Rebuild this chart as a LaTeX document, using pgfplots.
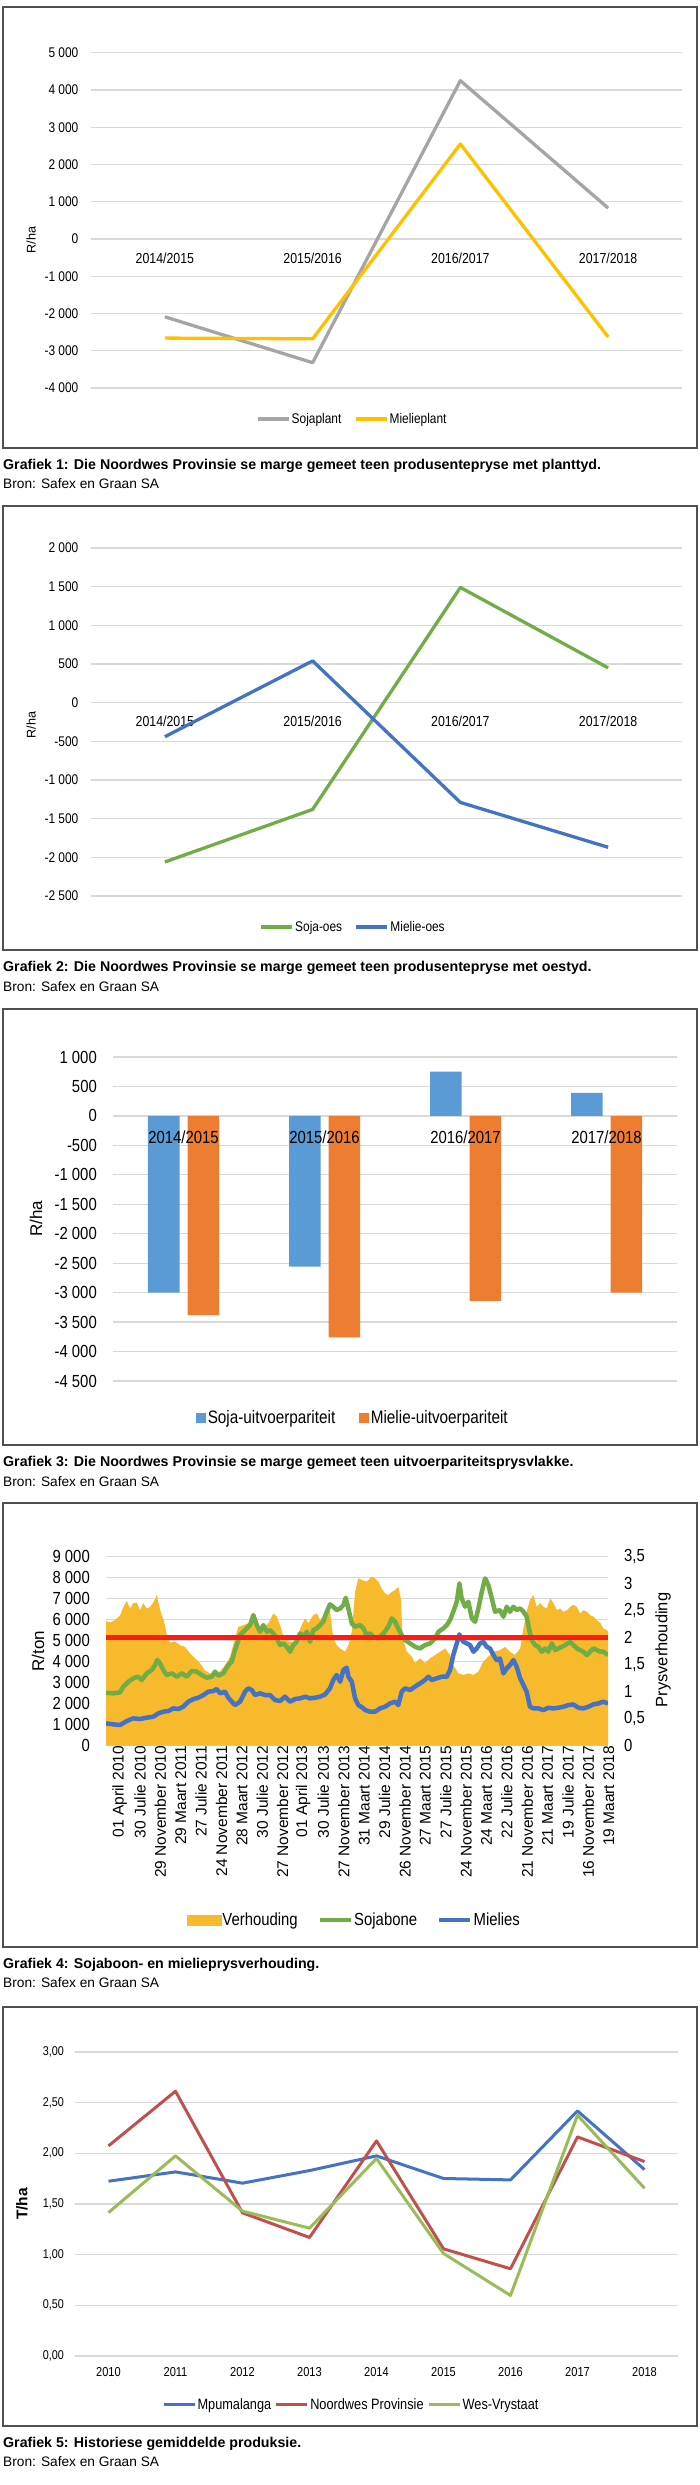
\documentclass[border=0pt]{standalone}
\usepackage{fontspec}
\setmainfont{Liberation Sans}
\newfontfamily\cond[FakeStretch=0.85]{Liberation Sans}
\usepackage{pgfplots}
\pgfplotsset{compat=1.18}

\definecolor{gridc}{HTML}{D9D9D9}
\definecolor{framec}{HTML}{505050}
\definecolor{sgray}{HTML}{A5A5A5}
\definecolor{gold}{HTML}{FFC000}
\definecolor{xgreen}{HTML}{70AD47}
\definecolor{xblue}{HTML}{4472C4}
\definecolor{lblue}{HTML}{5B9BD5}
\definecolor{xorange}{HTML}{ED7D31}
\definecolor{vh}{RGB}{246,186,44}
\definecolor{xred}{HTML}{FF1A1A}
\definecolor{nred}{HTML}{C0504D}
\definecolor{lgreen}{HTML}{9BBB59}

\newcommand{\fs}[1]{\fontsize{#1}{#1}\selectfont}

\pgfplotsset{
  base/.style={scale only axis, anchor=north west,
    axis line style={draw=none}, major tick length=0pt, tick style={draw=none},
    grid style={gridc, line width=1.3pt}},
  linelegend/.style={legend image code/.code={\draw[##1] (0pt,0pt) -- (31pt,0pt);}},
}

\begin{document}
\begin{tikzpicture}
\path[use as bounding box] (0,0) rectangle (700pt,-2485pt);

% frames and captions
\foreach \t/\b in {7/448, 506/950, 1009/1445, 1503/1947, 2007/2426}
  \draw[framec, line width=2pt] (3pt,-\t pt) rectangle (697pt,-\b pt);
\node[anchor=west, inner sep=0pt, font=\bfseries\fs{14.2}] at (3pt,-466pt) {Grafiek 1: Die Noordwes Provinsie se marge gemeet teen produsentepryse met planttyd.};
\node[anchor=west, inner sep=0pt, font=\bfseries\fs{14.2}] at (3pt,-968pt) {Grafiek 2: Die Noordwes Provinsie se marge gemeet teen produsentepryse met oestyd.};
\node[anchor=west, inner sep=0pt, font=\bfseries\fs{14.2}] at (3pt,-1463pt) {Grafiek 3: Die Noordwes Provinsie se marge gemeet teen uitvoerpariteitsprysvlakke.};
\node[anchor=west, inner sep=0pt, font=\bfseries\fs{14.2}] at (3pt,-1965pt) {Grafiek 4: Sojaboon- en mielieprysverhouding.};
\node[anchor=west, inner sep=0pt, font=\bfseries\fs{14.2}] at (3pt,-2444pt) {Grafiek 5: Historiese gemiddelde produksie.};
\foreach \y in {484, 987, 1482, 1983, 2462}
  \node[anchor=west, inner sep=0pt, font=\fs{13.7}] at (3pt,-\y pt) {Bron: Safex en Graan SA};

% axis titles
\node[rotate=90, font=\fs{12.6}] at (31pt,-240pt) {R/ha};
\node[rotate=90, font=\fs{12.6}] at (31pt,-725pt) {R/ha};
\node[rotate=90, font=\fs{17}] at (36pt,-1219pt) {R/ha};
\node[rotate=90, font=\fs{17}] at (38pt,-1651pt) {R/ton};
\node[rotate=90, font=\fs{16.5}] at (663pt,-1650pt) {Prysverhouding};
\node[rotate=90, font=\bfseries\fs{15.5}] at (22pt,-2204pt) {T/ha};

% ---------- Grafiek 1
\begin{axis}[base, at={(91pt,-52.7pt)}, width=591pt, height=335.3pt,
  xmin=-0.5, xmax=3.5, ymin=-4000, ymax=5000, ymajorgrids,
  xtick={0,1,2,3}, xticklabels={2014/2015,2015/2016,2016/2017,2017/2018},
  ytick={-4000,-3000,...,5000},
  yticklabels={-4 000,-3 000,-2 000,-1 000,0,1 000,2 000,3 000,4 000,5 000},
  xticklabel style={font=\cond\fs{14.5}, inner sep=0pt, anchor=center, yshift=130pt},
  yticklabel style={font=\cond\fs{14}, inner sep=0pt, anchor=east, xshift=-12.5pt},
  legend style={at={(0.4416,-0.0925)}, anchor=center, draw=none, fill=none,
    font=\cond\fs{14}, legend columns=2, nodes={inner sep=1.5pt},
    /tikz/every even column/.append style={column sep=11pt}},
  legend cell align=left, linelegend]
\addplot[sgray, line width=3.3pt, line join=round] coordinates {(0,-2090) (1,-3320) (2,4250) (3,830)};
\addlegendentry{Sojaplant}
\addplot[gold, line width=3.3pt, line join=round] coordinates {(0,-2660) (1,-2680) (2,2550) (3,-2630)};
\addlegendentry{Mielieplant}
\end{axis}

% ---------- Grafiek 2
\begin{axis}[base, at={(91pt,-548pt)}, width=591pt, height=348pt,
  xmin=-0.5, xmax=3.5, ymin=-2500, ymax=2000, ymajorgrids,
  xtick={0,1,2,3}, xticklabels={2014/2015,2015/2016,2016/2017,2017/2018},
  ytick={-2500,-2000,...,2000},
  yticklabels={-2 500,-2 000,-1 500,-1 000,-500,0,500,1 000,1 500,2 000},
  xticklabel style={font=\cond\fs{14.5}, inner sep=0pt, anchor=center, yshift=175pt},
  yticklabel style={font=\cond\fs{14}, inner sep=0pt, anchor=east, xshift=-12.5pt},
  legend style={at={(0.443,-0.089)}, anchor=center, draw=none, fill=none,
    font=\cond\fs{14}, legend columns=2, nodes={inner sep=1.5pt},
    /tikz/every even column/.append style={column sep=11pt}},
  legend cell align=left, linelegend]
\addplot[xgreen, line width=3.3pt, line join=round] coordinates {(0,-2060) (1,-1380) (2,1490) (3,450)};
\addlegendentry{Soja-oes}
\addplot[xblue, line width=3.3pt, line join=round] coordinates {(0,-440) (1,540) (2,-1290) (3,-1870)};
\addlegendentry{Mielie-oes}
\end{axis}

% ---------- Grafiek 3 : bars
\begin{axis}[base, at={(113pt,-1057pt)}, width=564pt, height=324pt,
  xmin=-0.5, xmax=3.5, ymin=-4500, ymax=1000, ymajorgrids,
  ybar=8pt, bar width=31.5pt, xtick=\empty,
  ytick={-4500,-4000,...,1000},
  yticklabels={-4 500,-4 000,-3 500,-3 000,-2 500,-2 000,-1 500,-1 000,-500,0,500,1 000},
  yticklabel style={font=\cond\fs{17.5}, inner sep=0pt, anchor=east, xshift=-16pt},
  legend style={at={(0.4255,-0.114)}, anchor=center, draw=none, fill=none,
    font=\cond\fs{18}, legend columns=2, nodes={inner sep=2pt},
    /tikz/every even column/.append style={column sep=22pt}},
  legend cell align=left]
\addplot[fill=lblue, draw=none, legend image code/.code={\fill[lblue] (0pt,-5pt) rectangle (9.5pt,5pt);}]
  coordinates {(0,-3000) (1,-2560) (2,750) (3,390)};
\addlegendentry{Soja-uitvoerpariteit}
\addplot[fill=xorange, draw=none, legend image code/.code={\fill[xorange] (0pt,-5pt) rectangle (9.5pt,5pt);}]
  coordinates {(0,-3380) (1,-3760) (2,-3140) (3,-3000)};
\addlegendentry{Mielie-uitvoerpariteit}
\end{axis}
% Grafiek 3 : category labels over the bars
\begin{axis}[base, at={(113pt,-1057pt)}, width=564pt, height=324pt,
  xmin=-0.5, xmax=3.5, ymin=-4500, ymax=1000, ytick=\empty,
  xtick={0,1,2,3}, xticklabels={2014/2015,2015/2016,2016/2017,2017/2018},
  xticklabel style={font=\cond\fs{17.5}, inner sep=0pt, anchor=center, yshift=244pt}]
\addplot[draw=none] coordinates {(0,0)};
\end{axis}

% ---------- Grafiek 4 : grid and left ticks
\begin{axis}[base, at={(106pt,-1556.7pt)}, width=502pt, height=189pt,
  xmin=-0.08, xmax=24.55, ymin=0, ymax=9000, ymajorgrids,
  ytick={0,1000,...,9000},
  yticklabels={0,1 000,2 000,3 000,4 000,5 000,6 000,7 000,8 000,9 000},
  xtick={0,...,24},
  xticklabels={01 April 2010,30 Julie 2010,29 November 2010,29 Maart 2011,27 Julie 2011,
    24 November 2011,28 Maart 2012,30 Julie 2012,27 November 2012,01 April 2013,
    30 Julie 2013,27 November 2013,31 Maart 2014,29 Julie 2014,26 November 2014,
    27 Maart 2015,27 Julie 2015,24 November 2015,24 Maart 2016,22 Julie 2016,
    21 November 2016,21 Maart 2017,19 Julie 2017,16 November 2017,19 Maart 2018},
  xticklabel style={font=\fs{15.5}, rotate=90, anchor=east, inner sep=0pt, yshift=-12pt},
  yticklabel style={font=\cond\fs{17.5}, inner sep=0pt, anchor=east, xshift=-16pt}]
\addplot[draw=none] coordinates {(0,0)};
\end{axis}

% Grafiek 4 : ratio area (right axis)
\begin{axis}[base, at={(106pt,-1556.7pt)}, width=502pt, height=189pt,
  xmin=-0.08, xmax=24.55, ymin=0, ymax=3.5,
  xtick=\empty, yticklabel pos=right,
  ytick={0,0.5,...,3.5}, yticklabels={0,{0,5},1,{1,5},2,{2,5},3,{3,5}},
  yticklabel style={font=\cond\fs{17.5}, inner sep=0pt, anchor=west, xshift=16pt}]
\addplot[fill=vh, draw=none] coordinates {
(-0.08,2.31) (0.12,2.28) (0.36,2.33) (0.61,2.41) (0.77,2.57) (0.94,2.68) (1.10,2.54) (1.26,2.64)
(1.43,2.65) (1.59,2.51) (1.75,2.64) (1.92,2.54) (2.08,2.57) (2.24,2.65) (2.41,2.79) (2.54,2.57)
(2.65,2.42) (2.77,2.30) (2.90,2.06) (3.06,1.91) (3.31,1.93) (3.55,1.86) (3.80,1.83) (4.04,1.71)
(4.29,1.62) (4.53,1.53) (4.78,1.39) (5.02,1.34) (5.27,1.32) (5.52,1.38) (5.76,1.49) (6.01,1.65)
(6.17,1.88) (6.41,2.20) (6.66,2.23) (6.90,2.27) (7.15,2.33) (7.39,2.14) (7.64,2.17) (7.89,2.27)
(8.13,2.45) (8.30,2.39) (8.46,2.23) (8.62,2.02) (8.87,1.93) (9.11,1.93) (9.36,2.08) (9.52,2.23)
(9.69,2.36) (9.85,2.27) (10.09,2.42) (10.26,2.45) (10.42,2.33) (10.67,2.45) (10.91,2.50) (11.07,1.99)
(11.24,1.86) (11.41,1.80) (11.65,1.74) (11.81,1.86) (11.98,2.11) (12.14,2.85) (12.30,3.10) (12.47,3.07)
(12.71,3.04) (12.96,3.13) (13.12,3.10) (13.28,3.04) (13.45,2.91) (13.61,2.82) (13.77,2.79) (13.94,2.85)
(14.10,2.88) (14.26,2.94) (14.38,2.73) (14.48,1.99) (14.68,1.74) (14.92,1.65) (15.08,1.53) (15.33,1.62)
(15.57,1.53) (15.82,1.62) (16.07,1.68) (16.31,1.74) (16.56,1.80) (16.80,1.68) (16.96,1.49) (17.21,1.34)
(17.45,1.31) (17.70,1.34) (17.95,1.31) (18.19,1.37) (18.43,1.56) (18.68,1.65) (18.93,1.74) (19.25,1.77)
(19.50,1.83) (19.74,1.74) (19.99,1.68) (20.24,1.80) (20.40,2.17) (20.56,2.48) (20.72,2.70) (20.89,2.79)
(21.05,2.57) (21.22,2.64) (21.38,2.57) (21.55,2.54) (21.71,2.73) (21.87,2.64) (22.04,2.51) (22.20,2.54)
(22.36,2.48) (22.53,2.51) (22.69,2.57) (22.85,2.61) (23.02,2.57) (23.18,2.45) (23.34,2.51) (23.51,2.48)
(23.67,2.42) (23.83,2.39) (24.00,2.33) (24.18,2.27) (24.32,2.17) (24.49,2.14) (24.55,2.11)
} \closedcycle;
\end{axis}

% Grafiek 4 : price lines (left axis)
\begin{axis}[base, at={(106pt,-1556.7pt)}, width=502pt, height=189pt,
  xmin=-0.08, xmax=24.55, ymin=0, ymax=9000, xtick=\empty, ytick=\empty,
  legend style={at={(0.494,-0.922)}, anchor=center, draw=none, fill=none,
    font=\cond\fs{17.5}, legend columns=3, nodes={inner sep=1.5pt},
    /tikz/every even column/.append style={column sep=18pt}},
  legend cell align=left, linelegend]
\addlegendimage{legend image code/.code={\fill[vh] (0pt,-5pt) rectangle (34pt,5pt);}}
\addlegendentry{Verhouding}
\addplot[xgreen, line width=4.5pt, line join=round] coordinates {
(-0.08,2525) (0.28,2493) (0.61,2541) (0.77,2811) (1.02,3049) (1.26,3208) (1.50,3287) (1.67,3128)
(1.92,3446) (2.16,3605) (2.33,3842) (2.44,4081) (2.57,3922) (2.73,3605) (2.90,3366) (3.15,3446)
(3.39,3287) (3.64,3446) (3.88,3287) (4.13,3557) (4.37,3525) (4.62,3366) (4.86,3239) (5.11,3287)
(5.27,3525) (5.43,3335) (5.68,3446) (5.92,3842) (6.09,4000) (6.25,4552) (6.50,5269) (6.74,5507)
(6.99,5745) (7.15,6221) (7.32,5745) (7.48,5428) (7.64,5745) (7.81,5428) (7.97,5507) (8.13,5348)
(8.30,5110) (8.46,4793) (8.62,4872) (8.79,4713) (8.95,4475) (9.11,4793) (9.28,4951) (9.44,5348)
(9.60,5190) (9.77,5428) (9.93,4951) (10.09,5507) (10.26,5586) (10.42,5745) (10.58,5904) (10.75,6380)
(10.91,6729) (11.07,6618) (11.24,6459) (11.41,6539) (11.57,6697) (11.68,7046) (11.81,6539) (11.98,5824)
(12.14,5666) (12.38,5745) (12.55,5586) (12.71,5269) (12.88,5348) (13.04,5190) (13.28,5110) (13.53,5348)
(13.77,5666) (13.94,6062) (14.10,5904) (14.26,5586) (14.43,5269) (14.59,5031) (14.84,4872) (15.08,4713)
(15.33,4634) (15.57,4793) (15.82,4872) (16.07,5110) (16.23,5428) (16.47,5586) (16.64,5745) (16.80,5983)
(16.96,6380) (17.13,6856) (17.26,7729) (17.37,7014) (17.54,6618) (17.70,6856) (17.87,6062) (18.03,5904)
(18.19,6539) (18.36,7332) (18.52,7967) (18.68,7650) (18.85,7014) (19.01,6380) (19.25,6459) (19.42,6142)
(19.58,6618) (19.74,6380) (19.91,6618) (20.07,6459) (20.24,6539) (20.40,6380) (20.56,6142) (20.69,5507)
(20.81,5031) (20.97,4793) (21.13,4713) (21.30,4475) (21.46,4634) (21.62,4475) (21.79,4872) (21.96,4554)
(22.12,4634) (22.29,4713) (22.45,4793) (22.69,4951) (22.85,4793) (23.02,4634) (23.18,4554) (23.34,4475)
(23.51,4316) (23.67,4475) (23.83,4634) (24.00,4554) (24.18,4475) (24.32,4475) (24.55,4316)
};
\addlegendentry{Sojabone}
\addplot[xblue, line width=4.5pt, line join=round] coordinates {
(-0.08,1065) (0.28,1017) (0.61,986) (0.94,1176) (1.26,1303) (1.59,1271) (1.92,1335) (2.24,1382)
(2.49,1541) (2.73,1620) (2.98,1652) (3.22,1779) (3.47,1747) (3.71,1858) (3.96,2097) (4.21,2223)
(4.45,2287) (4.70,2414) (4.94,2573) (5.19,2604) (5.35,2700) (5.52,2493) (5.76,2573) (5.92,2287)
(6.09,2100) (6.25,1938) (6.50,2097) (6.74,2573) (6.90,2732) (7.07,2652) (7.23,2414) (7.48,2493)
(7.72,2414) (7.97,2414) (8.21,2176) (8.46,2128) (8.70,2335) (8.95,2097) (9.20,2223) (9.44,2255)
(9.69,2335) (9.93,2255) (10.18,2287) (10.42,2335) (10.67,2446) (10.91,2732) (11.07,3128) (11.24,3366)
(11.41,3049) (11.57,3605) (11.73,3716) (11.81,3287) (11.98,3049) (12.14,2255) (12.30,1938) (12.55,1779)
(12.63,1700) (12.88,1620) (13.12,1620) (13.37,1779) (13.61,1858) (13.86,2017) (14.10,2097) (14.26,1938)
(14.43,2573) (14.59,2732) (14.84,2652) (15.08,2811) (15.33,2970) (15.57,3128) (15.74,3287) (15.90,3128)
(16.15,3208) (16.39,3287) (16.64,3287) (16.80,3605) (16.96,4319) (17.13,4872) (17.26,5300) (17.45,4951)
(17.62,4872) (17.78,4793) (17.95,4475) (18.11,4634) (18.27,4872) (18.43,4951) (18.60,4713) (18.76,4634)
(18.93,4316) (19.09,4078) (19.25,4157) (19.42,3443) (19.58,3681) (19.74,3840) (19.91,4078) (20.07,3760)
(20.24,3205) (20.40,2888) (20.56,2570) (20.72,1856) (20.89,1776) (21.13,1776) (21.38,1697) (21.62,1808)
(21.87,1776) (22.12,1808) (22.36,1856) (22.61,1935) (22.85,1967) (23.10,1808) (23.34,1776) (23.59,1856)
(23.83,1967) (24.08,2015) (24.32,2094) (24.55,2015)
};
\addlegendentry{Mielies}
\end{axis}

% Grafiek 4 : ratio 2 line (right axis)
\begin{axis}[base, at={(106pt,-1556.7pt)}, width=502pt, height=189pt,
  xmin=-0.08, xmax=24.55, ymin=0, ymax=3.5, xtick=\empty, ytick=\empty]
\addplot[xred, line width=5pt] coordinates {(-0.08,2) (24.55,2)};
\end{axis}

% ---------- Grafiek 5
\begin{axis}[base, at={(75pt,-2052pt)}, width=603pt, height=304pt,
  xmin=-0.5, xmax=8.5, ymin=0, ymax=3, ymajorgrids,
  xtick={0,...,8}, xticklabels={2010,2011,2012,2013,2014,2015,2016,2017,2018},
  ytick={0,0.5,...,3},
  yticklabels={{0,00},{0,50},{1,00},{1,50},{2,00},{2,50},{3,00}},
  xticklabel style={font=\cond\fs{13}, inner sep=0pt, anchor=center, yshift=-16pt},
  yticklabel style={font=\cond\fs{12.7}, inner sep=0pt, anchor=east, xshift=-11pt},
  legend style={at={(0.4577,-0.161)}, anchor=center, draw=none, fill=none,
    font=\cond\fs{15}, legend columns=3, nodes={inner sep=1.5pt},
    /tikz/every even column/.append style={column sep=2pt}},
  legend cell align=left, linelegend]
\addplot[xblue, line width=3pt, line join=round] coordinates {
(0,1.725) (1,1.817) (2,1.706) (3,1.830) (4,1.975) (5,1.752) (6,1.738) (7,2.419) (8,1.840)};
\addlegendentry{Mpumalanga}
\addplot[nred, line width=3pt, line join=round] coordinates {
(0,2.074) (1,2.613) (2,1.413) (3,1.170) (4,2.123) (5,1.058) (6,0.861) (7,2.162) (8,1.919)};
\addlegendentry{Noordwes Provinsie}
\addplot[lgreen, line width=3pt, line join=round] coordinates {
(0,1.416) (1,1.975) (2,1.430) (3,1.262) (4,1.949) (5,1.012) (6,0.598) (7,2.376) (8,1.656)};
\addlegendentry{Wes-Vrystaat}
\end{axis}
\end{tikzpicture}
\end{document}
